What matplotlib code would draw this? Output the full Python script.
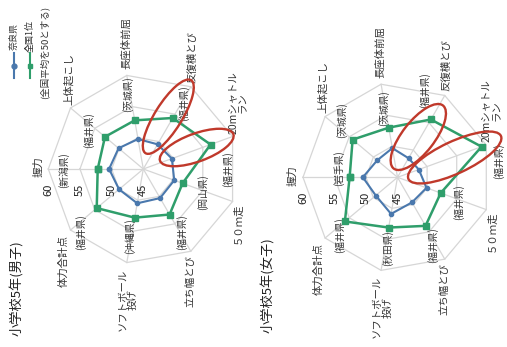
import numpy as np
import matplotlib
matplotlib.use('Agg')
import matplotlib.pyplot as plt
from matplotlib.patches import Ellipse
from matplotlib.lines import Line2D

plt.rcParams['font.family'] = ['Noto Sans CJK JP', 'DejaVu Sans']

# ---------------- data ----------------
categories = ['握力', '上体起こし', '長座体前屈', '反復横とび', '20mシャトル\nラン',
              '５０ｍ走', '立ち幅とび', 'ソフトボール\n投げ', '体力合計点']
boys_nara = [50.4, 50.1, 49.8, 49.5, 49.8, 50.2, 50.3, 50.5, 50.0]
boys_top = [52.2, 52.9, 52.8, 54.3, 56.3, 51.6, 53.3, 52.8, 54.6]
boys_top_pref = ['(新潟県)', '(福井県)', '(茨城県)', '(福井県)', '(福井県)',
                 '(岡山県)', '(福井県)', '(沖縄県)', '(福井県)']
girls_nara = [50.5, 49.2, 49.7, 48.5, 48.6, 49.9, 49.6, 50.9, 49.5]
girls_top = [52.6, 54.3, 53.0, 55.6, 59.2, 52.3, 53.9, 53.1, 55.9]
girls_top_pref = ['(岩手県)', '(茨城県)', '(茨城県)', '(福井県)', '(福井県)',
                  '(福井県)', '(福井県)', '(秋田県)', '(福井県)']
ticks = [45, 50, 55, 60]
titles = ['小学校5年(男子)', '小学校5年(女子)']
legend_labels = ['奈良県', '全国1位']
legend_note = '(全国平均を50とする)'

# ---------------- style ----------------
W, H = 507, 347
BLUE = '#4a78ad'
GREEN = '#2f9e6b'
RED = '#c0392b'
GRID = '#d6d6d6'
TXT = '#333333'

cat_offsets = [(-10, 2), (-2, 29), (-1, 32), (2, 30), (5, 34),
               (5, -22), (0, -30), (1, -37), (-7, -31)]
boys_lab_off = [(-34, -1), (-16, 7), (-7, 26), (11, 15), (17, -25),
                (20, -9), (12, -18), (-5, -18), (-16, -24)]
girls_lab_off = [(-11, 9), (-11, 20), (-5, 20), (-6, 29), (17, -14),
                 (18, -9), (7, -19), (-1, -21), (-5, -14)]

fig = plt.figure(figsize=(W / 100, H / 100), dpi=100)


def radar(cx, cy, R, nara, top, prefs, lab_off, tick_dy):
    ax = fig.add_axes([(cx - R) / W, 1 - (cy + R) / H, 2 * R / W, 2 * R / H],
                      projection='polar')
    n = len(categories)
    theta = np.arange(n) * 2 * np.pi / n
    tc = np.append(theta, theta[0])
    ax.set_theta_offset(np.pi)
    ax.set_theta_direction(-1)
    ax.set_ylim(ticks[0], ticks[-1])
    ax.grid(False)
    ax.set_xticks([])
    ax.set_yticks([])
    ax.spines['polar'].set_visible(False)
    ax.patch.set_alpha(0)
    for v in ticks[1:]:
        ax.plot(tc, [v] * (n + 1), color=GRID, lw=0.9, zorder=1, clip_on=False)
    for t in theta:
        ax.plot([t, t], [ticks[0], ticks[-1]], color=GRID, lw=0.9, zorder=1,
                clip_on=False)
    ax.plot(tc, list(nara) + [nara[0]], color=BLUE, lw=1.5, marker='o', ms=3,
            zorder=3, clip_on=False)
    ax.plot(tc, list(top) + [top[0]], color=GREEN, lw=1.8, marker='s', ms=4,
            zorder=4, clip_on=False)
    for i, lab in enumerate(categories):
        ax.annotate(lab, xy=(theta[i], ticks[-1]), xytext=cat_offsets[i],
                    textcoords='offset pixels', ha='center', va='center',
                    rotation=90, fontsize=7.5, color=TXT, annotation_clip=False,
                    linespacing=1.05)
    for i, p in enumerate(prefs):
        ax.annotate(p, xy=(theta[i], top[i]), xytext=lab_off[i],
                    textcoords='offset pixels', ha='center', va='center',
                    rotation=90, fontsize=7, color=TXT, annotation_clip=False)
    for v in ticks:
        ax.annotate(str(v), xy=(0, v), xytext=(0, tick_dy),
                    textcoords='offset pixels', ha='center', va='center',
                    rotation=90, fontsize=8, color='#222222',
                    annotation_clip=False)
    return ax


radar(143.3, 169, 95, boys_nara, boys_top, boys_top_pref, boys_lab_off, -21)
radar(397.5, 177.3, 94.5, girls_nara, girls_top, girls_top_pref, girls_lab_off, -21)


def ellipse(cx, cy, length, width, angle):
    e = Ellipse((cx / 100, (H - cy) / 100), length / 100, width / 100,
                angle=angle, transform=fig.dpi_scale_trans, fill=False,
                ec=RED, lw=1.7, zorder=10)
    fig.add_artist(e)


ellipse(168.3, 116.7, 86, 27, 58)
ellipse(196.7, 147.5, 78, 28, 20)
ellipse(418.3, 137, 80, 32, 52)
ellipse(454.7, 157.5, 102, 32, 25)

# titles
fig.text(17.5 / W, 1 - 288 / H, titles[0], rotation=90, ha='center', va='center',
         fontsize=9.5, color='#222222')
fig.text(268 / W, 1 - 285 / H, titles[1], rotation=90, ha='center', va='center',
         fontsize=9.5, color='#222222')

# legend (rotated)
for x, col, mk, lab in [(14, BLUE, 'o', legend_labels[0]), (30, GREEN, 's', legend_labels[1])]:
    fig.add_artist(Line2D([x / 100] * 3, [(H - 53) / 100, (H - 65.5) / 100, (H - 78) / 100],
                          transform=fig.dpi_scale_trans, color=col, lw=1.5,
                          marker=mk, ms=3.5, markevery=[1]))
    fig.text(x / W, 1 - 36 / H, lab, rotation=90, ha='center', va='center',
             fontsize=6.5, color=TXT)
fig.text(44 / W, 1 - 52 / H, legend_note, rotation=90, ha='center', va='center',
         fontsize=6.8, color=TXT)

fig.savefig('out.png', dpi=100)
